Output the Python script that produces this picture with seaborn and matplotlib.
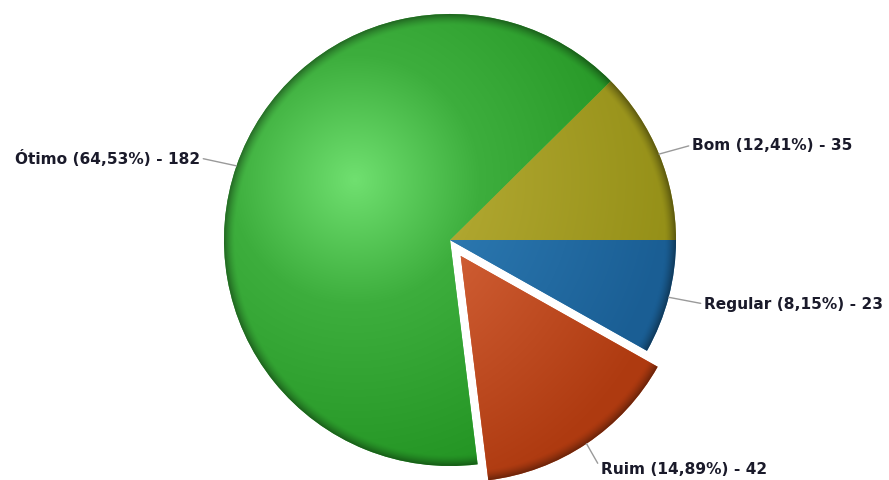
import numpy as np
import matplotlib
matplotlib.use("Agg")
import matplotlib.pyplot as plt
import seaborn as sns
from matplotlib.colors import to_rgb

# ---- data ----
categories = ["Bom", "Ótimo", "Ruim", "Regular"]
counts = [35, 182, 42, 23]
percent_labels = ["12,41%", "64,53%", "14,89%", "8,15%"]
light_colors = ["#c6be4a", "#70e070", "#e08260", "#3c8ac6"]
mid_colors = ["#aea52e", "#3dae3d", "#cc5a30", "#2a76ae"]
dark_colors = ["#959018", "#229322", "#ae3a10", "#1a5e94"]
explode_frac = [0, 0, 0.085, 0]

sns.set_theme(style="white")
plt.rcParams["font.family"] = ["DejaVu Sans"]

W, H = 889, 480
fig = plt.figure(figsize=(W / 100, H / 100), dpi=100)
ax = fig.add_axes([0, 0, 1, 1])

cx, cy, R = 450, 240, 226
wedges, _ = ax.pie(counts, startangle=0, counterclock=True,
                   explode=[e * R for e in explode_frac],
                   center=(cx, cy), radius=R, colors=mid_colors,
                   wedgeprops=dict(linewidth=0), frame=True)
ax.set_xlim(0, W)
ax.set_ylim(0, H)
ax.set_aspect("equal")
ax.axis("off")

# gradient shading per wedge
xs = np.arange(W) + 0.5
ys = np.arange(H) + 0.5
X, Y = np.meshgrid(xs, ys)
Yd = H - Y
for w, lc, mc, dc in zip(wedges, light_colors, mid_colors, dark_colors):
    wc = np.array(w.center)
    hx, hy = wc[0] - 95, wc[1] + 60
    d = np.hypot(X - hx, Yd - hy) / R
    l = np.array(to_rgb(lc)); m = np.array(to_rgb(mc)); k = np.array(to_rgb(dc))
    t1 = np.clip(d / 0.55, 0, 1)[..., None]
    t2 = np.clip((d - 0.55) / 0.85, 0, 1)[..., None]
    img = np.where(d[..., None] < 0.55, l * (1 - t1) + m * t1, m * (1 - t2) + k * t2)
    r = np.hypot(X - wc[0], Yd - wc[1]) / R
    rim = np.clip((r - 0.95) / 0.05, 0, 1) ** 1.5
    img = img * (1 - 0.4 * rim[..., None])
    im = ax.imshow(img, extent=(0, W, 0, H), origin="upper", zorder=2,
                   interpolation="bilinear")
    im.set_clip_path(w)
ax.set_xlim(0, W)
ax.set_ylim(0, H)

# labels
text_pos = [(692, 335), (200, 322), (601, 11), (704, 176)]
aligns = ["left", "right", "left", "left"]
for w, cat, pct, n, tp, ha in zip(wedges, categories, percent_labels, counts, text_pos, aligns):
    ang = np.deg2rad((w.theta1 + w.theta2) / 2)
    wc = np.array(w.center)
    xy = (wc[0] + R * np.cos(ang), wc[1] + R * np.sin(ang))
    rp = (1, 0.5) if ha == "right" else (0, 0.5)
    ax.annotate(f"{cat} ({pct}) - {n}", xy=xy, xytext=tp, ha=ha, va="center",
                fontsize=11.1, fontweight="bold", color="#1a1a2a", zorder=5,
                arrowprops=dict(arrowstyle="-", color="#9a9a9a", lw=1,
                                shrinkA=0, shrinkB=0, relpos=rp))

fig.savefig("out.png", dpi=100)
